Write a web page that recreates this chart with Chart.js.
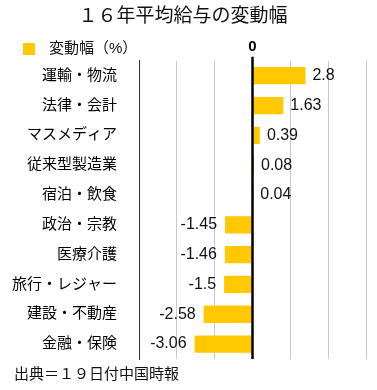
<!DOCTYPE html>
<html>
<head>
<meta charset="utf-8">
<script src="https://cdn.jsdelivr.net/npm/chart.js@4/dist/chart.umd.min.js"></script>
<style>
  html, body { margin: 0; padding: 0; background: #fff; }
  #wrap { width: 377px; height: 390px; }
</style>
</head>
<body>
<div id="wrap"><canvas id="myChart"></canvas></div>
<script>
const categories = [
  "運輸・物流", "法律・会計", "マスメディア", "従来型製造業", "宿泊・飲食",
  "政治・宗教", "医療介護", "旅行・レジャー", "建設・不動産", "金融・保険"
];
const changeValues = [2.8, 1.63, 0.39, 0.08, 0.04, -1.45, -1.46, -1.5, -2.58, -3.06];
const seriesLabel = "変動幅（%）";
const titleText = "１６年平均給与の変動幅";
const sourceText = "出典＝１９日付中国時報";

const FONT = "'Liberation Sans', 'Noto Sans CJK JP', sans-serif";
const barColor = "#ffc800";

// value labels, zero line, legend and source note
const extras = {
  id: "extras",
  afterDatasetsDraw(chart) {
    const { ctx, chartArea, scales } = chart;
    const meta = chart.getDatasetMeta(0);
    ctx.save();
    ctx.font = "16px " + FONT;
    ctx.fillStyle = "#111";
    ctx.textBaseline = "middle";
    meta.data.forEach((bar, i) => {
      const v = changeValues[i];
      if (v >= 0) {
        ctx.textAlign = "left";
        ctx.fillText(String(v), bar.x + 7, bar.y);
      } else {
        ctx.textAlign = "right";
        ctx.fillText(String(v), bar.x - 8, bar.y);
      }
    });

    // thick zero line over the bars
    const x0 = scales.x.getPixelForValue(0);
    ctx.strokeStyle = "#000";
    ctx.lineWidth = 2.5;
    ctx.beginPath();
    ctx.moveTo(x0, chartArea.top - 4);
    ctx.lineTo(x0, chartArea.bottom);
    ctx.stroke();

    // legend
    ctx.fillStyle = barColor;
    ctx.fillRect(23, 43, 12, 12);
    ctx.fillStyle = "#111";
    ctx.textAlign = "left";
    ctx.font = "15px " + FONT;
    ctx.fillText(seriesLabel, 49, 49);

    // source note
    ctx.fillText(sourceText, 14, 375);
    ctx.restore();
  },
};

new Chart(document.getElementById("myChart"), {
  type: "bar",
  data: {
    labels: categories,
    datasets: [{
      label: seriesLabel,
      data: changeValues,
      backgroundColor: barColor,
      barPercentage: 0.58,
      categoryPercentage: 1,
    }],
  },
  options: {
    indexAxis: "y",
    responsive: true,
    maintainAspectRatio: false,
    animation: false,
    layout: { padding: { left: 0, right: 11, top: 0, bottom: 31 } },
    scales: {
      x: {
        position: "top",
        min: -6,
        max: 6,
        border: { display: false },
        grid: {
          drawTicks: false,
          color: (c) => (c.tick && c.tick.value === -6 ? "#333" : "#c8c8c8"),
          lineWidth: 1,
        },
        ticks: {
          stepSize: 2,
          padding: 5,
          color: "#000",
          font: { family: FONT, size: 15, weight: "bold" },
          callback: (v) => (v === 0 ? "0" : ""),
        },
        afterFit: (scale) => { scale.height = 33; },
      },
      y: {
        grid: { display: false, drawTicks: false },
        border: { display: true, color: "#333", width: 1 },
        ticks: {
          padding: 22,
          color: "#000",
          font: { family: FONT, size: 15 },
        },
        afterFit: (scale) => { scale.width = 139; },
      },
    },
    plugins: {
      legend: { display: false },
      tooltip: { enabled: false },
      title: {
        display: true,
        text: titleText,
        color: "#111",
        font: { family: FONT, size: 19, weight: "normal" },
        padding: { top: 5, bottom: 0 },
      },
    },
  },
  plugins: [extras],
});
</script>
</body>
</html>
